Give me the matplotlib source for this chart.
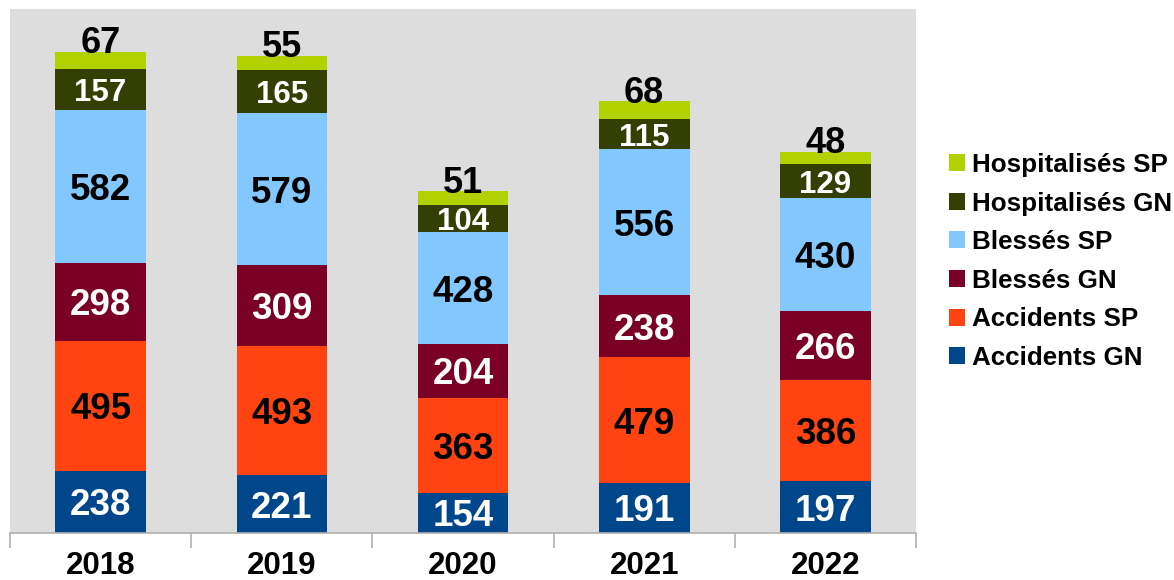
import matplotlib
matplotlib.use("Agg")
import matplotlib.pyplot as plt
import numpy as np

years = ["2018", "2019", "2020", "2021", "2022"]
accidents_gn = [238, 221, 154, 191, 197]
accidents_sp = [495, 493, 363, 479, 386]
blesses_gn = [298, 309, 204, 238, 266]
blesses_sp = [582, 579, 428, 556, 430]
hosp_gn = [157, 165, 104, 115, 129]
hosp_sp = [67, 55, 51, 68, 48]

series = [
    ("Accidents GN", accidents_gn, "#00468A", "white", 26.5),
    ("Accidents SP", accidents_sp, "#FF4411", "black", 26.5),
    ("Blessés GN", blesses_gn, "#7A0025", "white", 26.5),
    ("Blessés SP", blesses_sp, "#82C8FF", "black", 26.5),
    ("Hospitalisés GN", hosp_gn, "#333F03", "white", 22.5),
    ("Hospitalisés SP", hosp_sp, "#B2D100", "black", 26),
]

plt.rcParams['font.family'] = ['Liberation Sans', 'DejaVu Sans']

fig = plt.figure(figsize=(11.74, 5.8), dpi=100)
W, H = 1174, 580
ax = fig.add_axes([10 / W, (H - 533) / H, (916 - 10) / W, (533 - 9) / H])
ax.set_facecolor("#DDDDDD")

x = np.arange(len(years))
bottom = np.zeros(len(years))
handles = []
for name, vals, color, tcol, fs in series:
    vals = np.array(vals, dtype=float)
    b = ax.bar(x, vals, width=0.5, bottom=bottom, color=color, label=name, zorder=2)
    handles.append(b)
    for xi, v, bt in zip(x, vals, bottom):
        if name == "Hospitalisés SP":
            ax.text(xi, bt + v - 6, f"{int(v)}", ha="center", va="baseline",
                    color=tcol, fontsize=fs, fontweight="bold", zorder=3)
        else:
            ax.text(xi, bt + v / 2, f"{int(v)}", ha="center", va="center_baseline",
                    color=tcol, fontsize=fs, fontweight="bold", zorder=3)
    bottom += vals

ax.set_xlim(-0.5, len(years) - 0.5)
ax.set_ylim(0, 2000)
ax.set_yticks([])
ax.set_xticks(x)
ax.set_xticklabels(years, fontsize=22.5, fontweight="bold")
ax.tick_params(axis="x", which="major", length=0, pad=13)
ax.set_xticks(np.arange(-0.5, len(years), 1.0), minor=True)
ax.tick_params(axis="x", which="minor", length=11, color="#B0B0B0", width=1.2)
for s in ["left", "right", "top"]:
    ax.spines[s].set_visible(False)
ax.spines["bottom"].set_color("#B0B0B0")
ax.spines["bottom"].set_linewidth(1.2)

leg = fig.legend(handles[::-1], [s[0] for s in series][::-1],
                 loc="upper left", bbox_to_anchor=(949 / W, 1 - 153 / H),
                 frameon=False, prop={"weight": "bold", "size": 18.7},
                 handlelength=0.63, handleheight=0.63, handletextpad=0.25,
                 labelspacing=0.56, borderaxespad=0, borderpad=0)

fig.savefig("out.png", dpi=100)
